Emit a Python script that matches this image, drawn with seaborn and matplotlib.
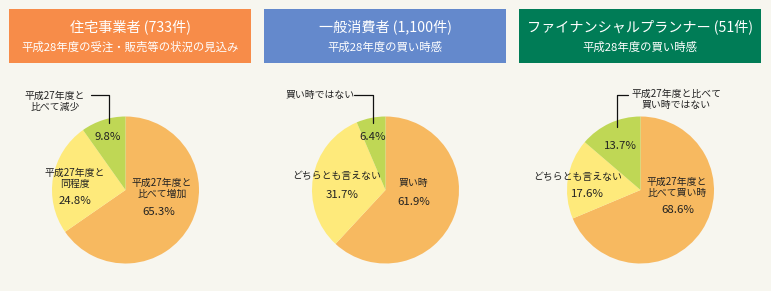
import matplotlib
matplotlib.use('Agg')
import matplotlib.pyplot as plt
from matplotlib.patches import Rectangle
import seaborn as sns

W, H = 771, 291

# panel headers
titles = ['住宅事業者 (733件)', '一般消費者 (1,100件)', 'ファイナンシャルプランナー (51件)']
subtitles = ['平成28年度の受注・販売等の状況の見込み', '平成28年度の買い時感', '平成28年度の買い時感']
header_colors = ['#f78c49', '#6489cc', '#007c56']

# slice values (%), clockwise from 12 o'clock
housing_values = [65.3, 24.8, 9.8]
consumer_values = [61.9, 31.7, 6.4]
planner_values = [68.6, 17.6, 13.7]

housing_labels = ['平成27年度と\n比べて増加', '平成27年度と\n同程度', '平成27年度と\n比べて減少']
consumer_labels = ['買い時', 'どちらとも言えない', '買い時ではない']
planner_labels = ['平成27年度と\n比べて買い時', 'どちらとも言えない', '平成27年度と比べて\n買い時ではない']

slice_colors = ['#f7b960', '#feea7b', '#bfd755']
BG = '#f7f6ef'
TXT = '#222222'

sns.set_theme(style='white')
plt.rcParams['font.family'] = ['Noto Sans CJK JP', 'DejaVu Sans']

fig = plt.figure(figsize=(W / 100, H / 100), dpi=100, facecolor=BG)
ax = fig.add_axes([0, 0, 1, 1])
ax.set_facecolor(BG)


def Y(y):
    return H - y


panels = [
    dict(x0=9, cx=125.5, values=housing_values, labels=housing_labels,
         text_pos=[(162, 188), (75, 178), (55, 101)],
         pct_pos=[(159, 212), (75, 201), (108, 137)],
         callout=[(91, 95), (109, 95), (109, 123)]),
    dict(x0=264, cx=385.5, values=consumer_values, labels=consumer_labels,
         text_pos=[(413, 183), (337, 176), (320, 95)],
         pct_pos=[(414, 202), (342, 195), (373, 137)],
         callout=[(354, 95), (373, 95), (373, 123)]),
    dict(x0=519, cx=640.5, values=planner_values, labels=planner_labels,
         text_pos=[(677, 187), (578, 177), (676, 99)],
         pct_pos=[(678, 210), (587, 194), (620, 146)],
         callout=[(628, 95), (617, 95), (617, 127)]),
]

for i, p in enumerate(panels):
    ax.add_patch(Rectangle((p['x0'], Y(63)), 242, 54, facecolor=header_colors[i],
                           edgecolor='none', zorder=1))
    hx = p['x0'] + 121
    ax.text(hx, Y(27), titles[i], color='white', fontsize=10.2,
            ha='center', va='center', zorder=2)
    ax.text(hx, Y(47), subtitles[i], color='white', fontsize=8.2,
            ha='center', va='center', zorder=2)

    ax.pie(p['values'], colors=slice_colors, startangle=90, counterclock=False,
           center=(p['cx'], Y(190)), radius=73.5,
           wedgeprops=dict(linewidth=0, edgecolor='none'))

    for (tx, ty), lab in zip(p['text_pos'], p['labels']):
        ax.text(tx, Y(ty), lab, color=TXT, fontsize=7.1, ha='center', va='center',
                linespacing=1.15, zorder=4)
    for (tx, ty), v in zip(p['pct_pos'], p['values']):
        ax.text(tx, Y(ty), f'{v:.1f}%', color=TXT, fontsize=8.2, ha='center',
                va='center', zorder=4)

    xs = [c[0] for c in p['callout']]
    ys = [Y(c[1]) for c in p['callout']]
    ax.plot(xs, ys, color='#111111', linewidth=0.9, zorder=3)

ax.set_xlim(0, W)
ax.set_ylim(0, H)
ax.set_aspect('auto')
ax.axis('off')

fig.savefig('out.png', dpi=100, facecolor=BG)
